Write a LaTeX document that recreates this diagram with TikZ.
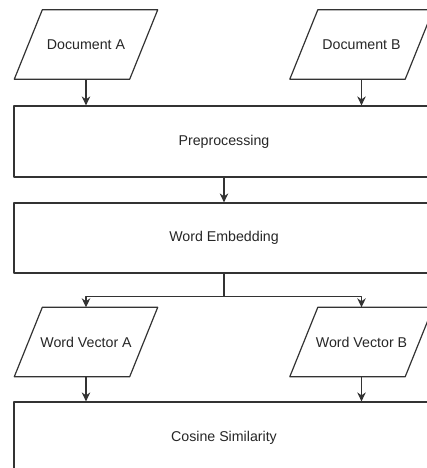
\documentclass[tikz,border=0pt]{standalone}
\usepackage{fontspec}
\setmainfont{Liberation Sans}
\usepackage{tikz}
\usetikzlibrary{arrows.meta,positioning,calc}

\begin{document}
\begin{tikzpicture}[x=1pt,y=-1pt,
  every node/.style={font=\fontsize{14.2}{17}\selectfont,text=black!85},
  line/.style={draw=black!80,line width=1.2pt,line join=round},
  io/.style={rectangle,minimum width=115pt,minimum height=69pt,inner sep=0pt},
  stage/.style={line,rectangle,minimum width=420pt,minimum height=71pt,inner sep=0pt},
  arr/.style={line,-{Stealth[length=9pt,width=8.5pt]}}]
  \useasboundingbox (0,0) rectangle (427,468);
  \clip (0,0) rectangle (427,468);
  % inputs
  \node[io] (docA) at (86,44.5) {Document A};
  \node[io] (docB) at (361.5,44.5) {Document B};
  \node[stage] (prep) at (224,141.5) {Preprocessing};
  \node[stage,minimum height=70pt] (emb) at (224,238) {Word Embedding};
  % vectors
  \node[io] (vecA) at (86,342) {Word Vector A};
  \node[io] (vecB) at (361.5,342) {Word Vector B};
  \node[stage] (cos) at (224,437.5) {Cosine Similarity};
  % parallelogram outlines
  \foreach \n in {docA,docB,vecA,vecB}
    \draw[line] ([xshift=14pt]\n.north west) -- ([xshift=14pt]\n.north east)
      -- ([xshift=-14pt]\n.south east) -- ([xshift=-14pt]\n.south west) -- cycle;
  \draw[arr] (docA.south) -- (docA.south |- prep.north);
  \draw[arr] (docB.south) -- (docB.south |- prep.north);
  \draw[arr] (prep.south -| emb) -- (emb.north);
  \draw[line] (emb.south) -- ++(0,23) coordinate (split);
  \draw[arr] (split) -| (vecA.north);
  \draw[arr] (split) -| (vecB.north);
  \draw[arr] (vecA.south) -- (vecA.south |- cos.north);
  \draw[arr] (vecB.south) -- (vecB.south |- cos.north);
\end{tikzpicture}
\end{document}
